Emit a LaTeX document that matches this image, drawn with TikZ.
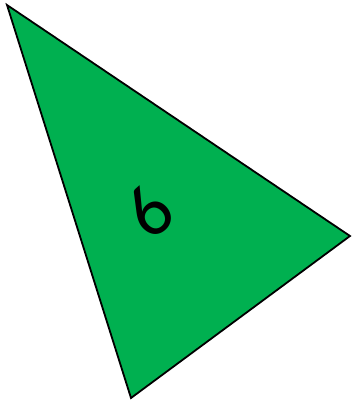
\documentclass[tikz,border=0pt]{standalone}
\usepackage{fontspec}
\setmainfont{Carlito}
\definecolor{pgreen}{HTML}{00B050}
\begin{document}
\begin{tikzpicture}[x=1pt,y=1pt,
  piece/.style={fill=pgreen,draw=black,line width=1.8pt,line join=miter},
  lbl/.style={font=\fontsize{74}{76}\selectfont,rotate=42,inner sep=0pt}]
\useasboundingbox (0,0) rectangle (351,-404);
\coordinate (A) at (7,-5);
\coordinate (B) at (350,-236);
\coordinate (C) at (131,-398);
\draw[piece] (A) -- (B) -- (C) -- cycle;
\node[lbl] (six) at (149,-212) {6};
\end{tikzpicture}
\end{document}
